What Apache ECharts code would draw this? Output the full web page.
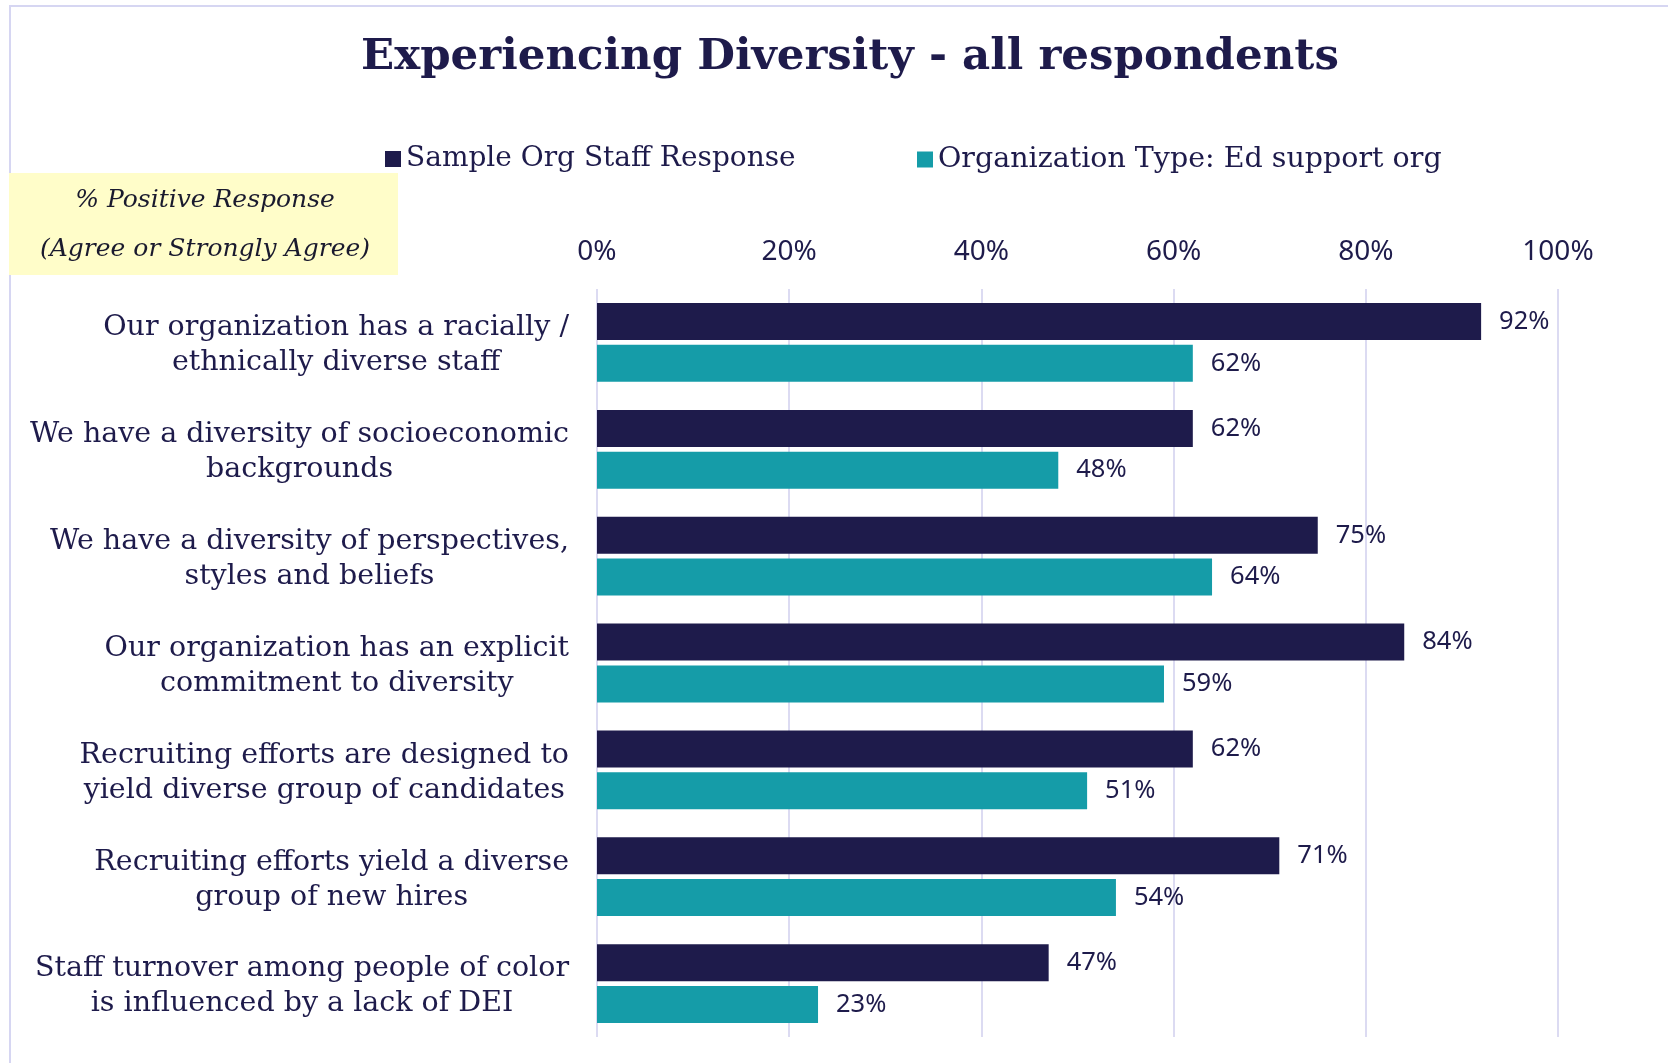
<!DOCTYPE html>
<html>
<head>
<meta charset="utf-8">
<script src="https://cdn.jsdelivr.net/npm/echarts@6/dist/echarts.min.js"></script>
<style>
  html, body { margin: 0; padding: 0; background: #fff; }
  #chart { width: 1668px; height: 1063px; }
</style>
</head>
<body>
<div id="chart"></div>
<script>
var categories = [
  'Our organization has a racially /\nethnically diverse staff',
  'We have a diversity of socioeconomic\nbackgrounds',
  'We have a diversity of perspectives,\nstyles and beliefs',
  'Our organization has an explicit\ncommitment to diversity',
  'Recruiting efforts are designed to\nyield diverse group of candidates',
  'Recruiting efforts yield a diverse\ngroup of new hires',
  'Staff turnover among people of color\nis influenced by a lack of DEI'
]
var seriesNames = ['Sample Org Staff Response', 'Organization Type: Ed support org']
var sampleOrg = [92, 62, 75, 84, 62, 71, 47]
var edSupport = [62, 48, 64, 59, 51, 54, 23]
var xTicks = [0, 20, 40, 60, 80, 100]

var navy = '#1E1B4B'
var teal = '#159CA8'
var serif = 'DejaVu Serif'
var sans = 'Noto Sans'

var chart = echarts.init(document.getElementById('chart'))

var option = {
  backgroundColor: '#fff',
  animation: false,
  title: {
    text: 'Experiencing Diversity - all respondents',
    left: 845,
    top: 53,
    textAlign: 'center',
    textVerticalAlign: 'middle',
    textStyle: { fontFamily: serif, fontWeight: 'bold', fontSize: 43.5, color: navy }
  },
  legend: [
    {
      data: [seriesNames[0]],
      left: 385, top: 145, padding: 0,
      icon: 'rect', itemWidth: 16, itemHeight: 16, itemGap: 8,
      textStyle: { fontFamily: serif, fontSize: 28, color: navy }
    },
    {
      data: [seriesNames[1]],
      left: 917, top: 145, padding: 0,
      icon: 'rect', itemWidth: 16, itemHeight: 16, itemGap: 8,
      textStyle: { fontFamily: serif, fontSize: 28.5, color: navy }
    }
  ],
  grid: { left: 597, right: 110, top: 289, bottom: 26, outerBoundsMode: 'none' },
  xAxis: {
    type: 'value',
    position: 'top',
    min: xTicks[0],
    max: xTicks[xTicks.length - 1],
    interval: 20,
    axisLine: { show: false },
    axisTick: { show: false },
    splitLine: { lineStyle: { color: '#DCDBF2', width: 2 } },
    axisLabel: {
      formatter: '{value}%',
      margin: 23,
      fontFamily: sans, fontSize: 28, color: navy
    }
  },
  yAxis: {
    type: 'category',
    inverse: true,
    data: categories,
    axisLine: { show: false },
    axisTick: { show: false },
    axisLabel: {
      margin: 28,
      lineHeight: 35,
      padding: [6, 0, 0, 0],
      formatter: function (v) {
        return v.split('\n').map(function (s) { return '{c|' + s + '}' }).join('\n')
      },
      rich: {
        c: { align: 'center', fontFamily: serif, fontSize: 28.5, color: navy, lineHeight: 35 }
      }
    }
  },
  series: [
    {
      name: seriesNames[0],
      type: 'bar',
      data: sampleOrg,
      barWidth: 37,
      barGap: '13%',
      itemStyle: { color: navy },
      label: {
        show: true, position: 'right', distance: 18,
        formatter: '{c}%', fontFamily: sans, fontSize: 25.5, color: navy
      }
    },
    {
      name: seriesNames[1],
      type: 'bar',
      data: edSupport,
      barWidth: 37,
      barGap: '13%',
      itemStyle: { color: teal },
      label: {
        show: true, position: 'right', distance: 18,
        formatter: '{c}%', fontFamily: sans, fontSize: 25.5, color: navy
      }
    }
  ],
  graphic: [
    {
      type: 'rect', z: -1,
      shape: { x: 10, y: 6, width: 2000, height: 2000 },
      style: { fill: null, stroke: '#D6D6F2', lineWidth: 2 }
    },
    {
      type: 'rect', z: 0,
      shape: { x: 9, y: 173, width: 389, height: 102 },
      style: { fill: '#FFFDC9' }
    },
    {
      type: 'text', z: 1, x: 205, y: 200,
      style: {
        text: '% Positive Response', align: 'center', verticalAlign: 'middle',
        font: 'italic 25px "DejaVu Serif"', fill: '#1a1a2e'
      }
    },
    {
      type: 'text', z: 1, x: 205, y: 249,
      style: {
        text: '(Agree or Strongly Agree)', align: 'center', verticalAlign: 'middle',
        font: 'italic 25px "DejaVu Serif"', fill: '#1a1a2e'
      }
    }
  ]
}

chart.setOption(option)
</script>
</body>
</html>
